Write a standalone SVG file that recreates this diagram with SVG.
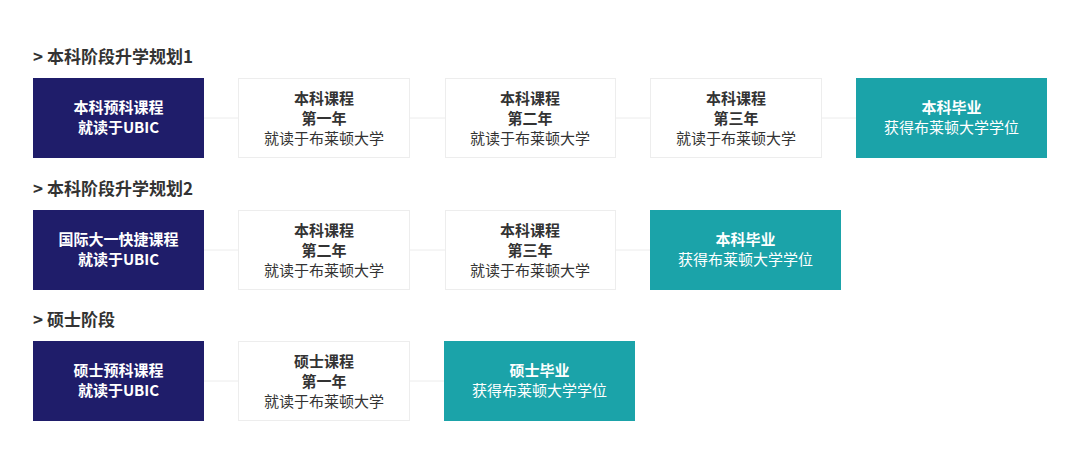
<svg xmlns="http://www.w3.org/2000/svg" width="1080" height="459" viewBox="0 0 1080 459">
<style>
text{font-family:"Noto Sans CJK SC","Noto Sans",sans-serif;font-size:15px;text-anchor:middle}
.h{font-size:17px;font-weight:bold;fill:#333;text-anchor:start}
.navy{fill:#1f1d6a}
.teal{fill:#1ba3a9}
.white{fill:#fff;stroke:#ededed;stroke-width:1}
.tw{fill:#fff}
.tb{fill:#333}
.b{font-weight:bold}
.c{stroke:#ececec;stroke-width:1;fill:none}
.d{fill:#999}
</style>
<rect width="1080" height="459" fill="#fff"/>
<text class="h" x="33" y="63">&gt; 本科阶段升学规划1</text>
<text class="h" x="33" y="195">&gt; 本科阶段升学规划2</text>
<text class="h" x="33" y="326">&gt; 硕士阶段</text>
<g id="connectors">
<line class="c" x1="204" y1="118" x2="238" y2="118"/><rect class="d" x="238" y="117.5" width="2" height="1"/>
<line class="c" x1="410" y1="118" x2="445" y2="118"/><rect class="d" x="445" y="117.5" width="2" height="1"/>
<line class="c" x1="615" y1="118" x2="650" y2="118"/><rect class="d" x="650" y="117.5" width="2" height="1"/>
<line class="c" x1="822" y1="118" x2="856" y2="118"/><rect class="d" x="856" y="117.5" width="2" height="1"/>
<line class="c" x1="204" y1="250" x2="238" y2="250"/><rect class="d" x="238" y="249.5" width="2" height="1"/>
<line class="c" x1="410" y1="250" x2="445" y2="250"/><rect class="d" x="445" y="249.5" width="2" height="1"/>
<line class="c" x1="615" y1="250" x2="650" y2="250"/><rect class="d" x="650" y="249.5" width="2" height="1"/>
<line class="c" x1="204" y1="381" x2="238" y2="381"/><rect class="d" x="238" y="380.5" width="2" height="1"/>
<line class="c" x1="410" y1="381" x2="444" y2="381"/><rect class="d" x="444" y="380.5" width="2" height="1"/>
</g>
<g id="r1n1"><rect class="navy" x="33" y="78" width="171" height="80"/><text class="tw b" x="118.5" y="113">本科预科课程</text><text class="tw b" x="118.5" y="133">就读于UBIC</text></g>
<g id="r1n2"><rect class="white" x="238.5" y="78.5" width="171" height="79"/><text class="tb b" x="324" y="104">本科课程</text><text class="tb b" x="324" y="124">第一年</text><text class="tb" x="324" y="144">就读于布莱顿大学</text></g>
<g id="r1n3"><rect class="white" x="445.5" y="78.5" width="170" height="79"/><text class="tb b" x="530" y="104">本科课程</text><text class="tb b" x="530" y="124">第二年</text><text class="tb" x="530" y="144">就读于布莱顿大学</text></g>
<g id="r1n4"><rect class="white" x="650.5" y="78.5" width="171" height="79"/><text class="tb b" x="736" y="104">本科课程</text><text class="tb b" x="736" y="124">第三年</text><text class="tb" x="736" y="144">就读于布莱顿大学</text></g>
<g id="r1n5"><rect class="teal" x="856" y="78" width="191" height="80"/><text class="tw b" x="951.5" y="113">本科毕业</text><text class="tw" x="951.5" y="133">获得布莱顿大学学位</text></g>
<g id="r2n1"><rect class="navy" x="33" y="210" width="171" height="80"/><text class="tw b" x="118.5" y="245">国际大一快捷课程</text><text class="tw b" x="118.5" y="265">就读于UBIC</text></g>
<g id="r2n2"><rect class="white" x="238.5" y="210.5" width="171" height="79"/><text class="tb b" x="324" y="236">本科课程</text><text class="tb b" x="324" y="256">第二年</text><text class="tb" x="324" y="276">就读于布莱顿大学</text></g>
<g id="r2n3"><rect class="white" x="445.5" y="210.5" width="170" height="79"/><text class="tb b" x="530" y="236">本科课程</text><text class="tb b" x="530" y="256">第三年</text><text class="tb" x="530" y="276">就读于布莱顿大学</text></g>
<g id="r2n4"><rect class="teal" x="650" y="210" width="191" height="80"/><text class="tw b" x="745.5" y="245">本科毕业</text><text class="tw" x="745.5" y="265">获得布莱顿大学学位</text></g>
<g id="r3n1"><rect class="navy" x="33" y="341" width="171" height="80"/><text class="tw b" x="118.5" y="376">硕士预科课程</text><text class="tw b" x="118.5" y="396">就读于UBIC</text></g>
<g id="r3n2"><rect class="white" x="238.5" y="341.5" width="171" height="79"/><text class="tb b" x="324" y="367">硕士课程</text><text class="tb b" x="324" y="387">第一年</text><text class="tb" x="324" y="407">就读于布莱顿大学</text></g>
<g id="r3n3"><rect class="teal" x="444" y="341" width="191" height="80"/><text class="tw b" x="539.5" y="376">硕士毕业</text><text class="tw" x="539.5" y="396">获得布莱顿大学学位</text></g>
</svg>
